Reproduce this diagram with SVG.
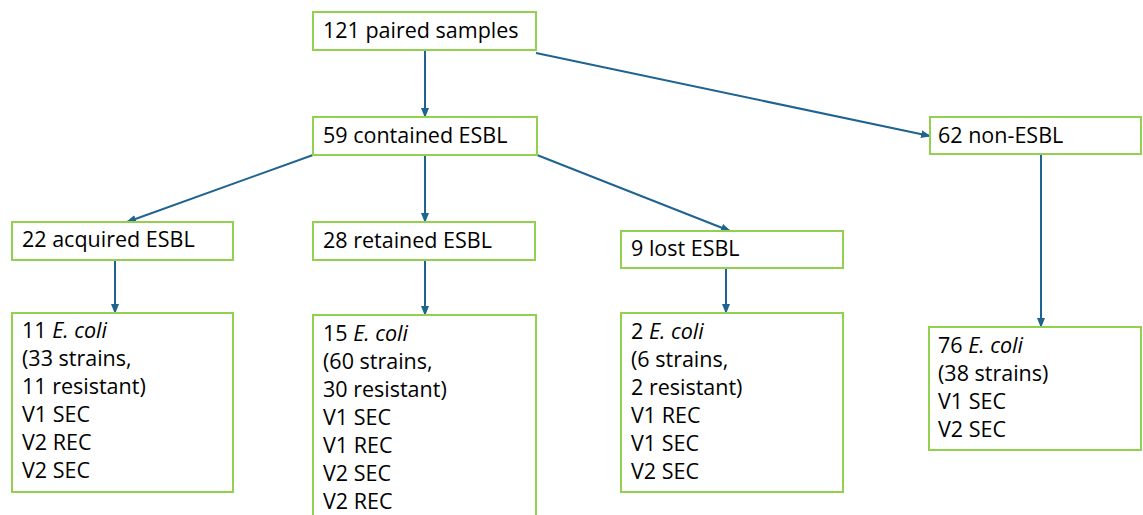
<svg xmlns="http://www.w3.org/2000/svg" width="1143" height="515" viewBox="0 0 1143 515">
<style>
.box{fill:#ffffff;stroke:#92d050;stroke-width:2}
.t{font-family:"Open Sans","Liberation Sans",sans-serif;font-size:21.5px;fill:#000000}
.i{font-style:italic}
.c{stroke:#1f6391;stroke-width:2;fill:none;marker-end:url(#ah)}
</style>
<defs>
<marker id="ah" markerWidth="10" markerHeight="8" refX="9" refY="4" orient="auto" markerUnits="userSpaceOnUse">
<path d="M0,0 L10,4 L0,8 Z" fill="#1f6391"/>
</marker>
</defs>
<rect width="1143" height="515" fill="#ffffff"/>
<g id="connectors">
<line class="c" x1="425" y1="50" x2="425" y2="117"/>
<line class="c" x1="536" y1="53" x2="930" y2="136"/>
<line class="c" x1="313" y1="155" x2="127" y2="222"/>
<line class="c" x1="425" y1="155" x2="425" y2="222"/>
<line class="c" x1="537" y1="155" x2="730" y2="231"/>
<line class="c" x1="115" y1="260" x2="115" y2="313"/>
<line class="c" x1="425" y1="260" x2="425" y2="315"/>
<line class="c" x1="726" y1="268" x2="726" y2="313"/>
<line class="c" x1="1041" y1="154" x2="1041" y2="327"/>
</g>
<g id="n_paired">
<rect class="box" x="313" y="12" width="223" height="38"/>
<text class="t" x="323" y="38">121 paired samples</text>
</g>
<g id="n_contained">
<rect class="box" x="313" y="117" width="224" height="38"/>
<text class="t" x="323" y="143">59 contained ESBL</text>
</g>
<g id="n_non">
<rect class="box" x="930" y="117" width="211" height="37"/>
<text class="t" x="938" y="143">62 non-ESBL</text>
</g>
<g id="n_acquired">
<rect class="box" x="12" y="222" width="221" height="38"/>
<text class="t" x="22" y="247">22 acquired ESBL</text>
</g>
<g id="n_retained">
<rect class="box" x="313" y="222" width="222" height="38"/>
<text class="t" x="323" y="248">28 retained ESBL</text>
</g>
<g id="n_lost">
<rect class="box" x="621" y="231" width="222" height="37"/>
<text class="t" x="631" y="256">9 lost ESBL</text>
</g>
<g id="n_acq_ecoli">
<rect class="box" x="12" y="313" width="221" height="179"/>
<text class="t" x="22" y="338">11 <tspan class="i">E. coli</tspan></text>
<text class="t" x="22" y="366">(33 strains,</text>
<text class="t" x="22" y="394">11 resistant)</text>
<text class="t" x="22" y="422">V1 SEC</text>
<text class="t" x="22" y="450">V2 REC</text>
<text class="t" x="22" y="478">V2 SEC</text>
</g>
<g id="n_ret_ecoli">
<rect class="box" x="313" y="315" width="223" height="210"/>
<text class="t" x="323" y="341">15 <tspan class="i">E. coli</tspan></text>
<text class="t" x="323" y="369">(60 strains,</text>
<text class="t" x="323" y="397">30 resistant)</text>
<text class="t" x="323" y="425">V1 SEC</text>
<text class="t" x="323" y="453">V1 REC</text>
<text class="t" x="323" y="481">V2 SEC</text>
<text class="t" x="323" y="509">V2 REC</text>
</g>
<g id="n_lost_ecoli">
<rect class="box" x="621" y="313" width="222" height="179"/>
<text class="t" x="631" y="339">2 <tspan class="i">E. coli</tspan></text>
<text class="t" x="631" y="367">(6 strains,</text>
<text class="t" x="631" y="395">2 resistant)</text>
<text class="t" x="631" y="423">V1 REC</text>
<text class="t" x="631" y="451">V1 SEC</text>
<text class="t" x="631" y="479">V2 SEC</text>
</g>
<g id="n_non_ecoli">
<rect class="box" x="929" y="327" width="212" height="123"/>
<text class="t" x="938" y="353">76 <tspan class="i">E. coli</tspan></text>
<text class="t" x="938" y="381">(38 strains)</text>
<text class="t" x="938" y="409">V1 SEC</text>
<text class="t" x="938" y="437">V2 SEC</text>
</g>
</svg>
